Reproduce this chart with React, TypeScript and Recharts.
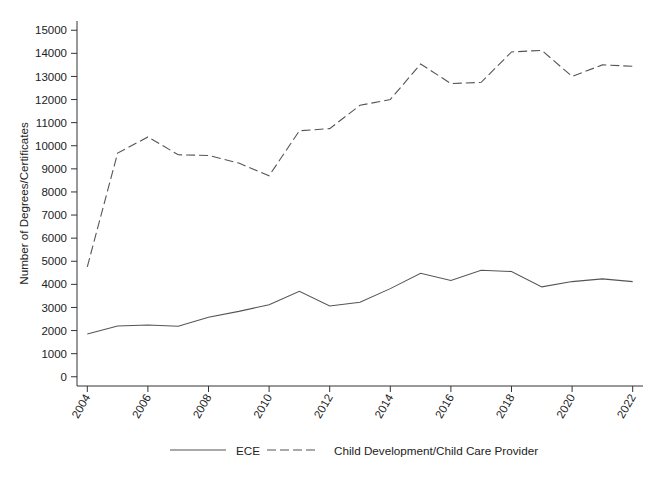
import React from 'react';
import { LineChart, Line, XAxis, YAxis, Legend } from 'recharts';

const years = [2004, 2005, 2006, 2007, 2008, 2009, 2010, 2011, 2012, 2013, 2014, 2015, 2016, 2017, 2018, 2019, 2020, 2021, 2022];
const eceValues = [1850, 2200, 2240, 2185, 2575, 2830, 3120, 3700, 3065, 3225, 3815, 4480, 4165, 4610, 4555, 3890, 4120, 4235, 4120];
const childDevValues = [4760, 9680, 10380, 9610, 9580, 9250, 8700, 10650, 10740, 11750, 12000, 13540, 12690, 12745, 14060, 14130, 13000, 13500, 13440];
const xTicks = [2004, 2006, 2008, 2010, 2012, 2014, 2016, 2018, 2020, 2022];
const yTicks = [0, 1000, 2000, 3000, 4000, 5000, 6000, 7000, 8000, 9000, 10000, 11000, 12000, 13000, 14000, 15000];
const seriesNames = ['ECE', 'Child Development/Child Care Provider'];

const data = years.map((y, i) => ({ year: y, ece: eceValues[i], cd: childDevValues[i] }));

const FONT = '"Liberation Sans", Arial, sans-serif';
const TEXT = '#222';
const LINE = '#555';
const AXIS = '#333';

const XTick = (props: any) => {
  const { x, y, payload } = props;
  return (
    <text
      x={x}
      y={y}
      transform={`rotate(-60 ${x} ${y})`}
      textAnchor="end"
      dominantBaseline="central"
      fontFamily={FONT}
      fontSize={11.5}
      fill={TEXT}
    >
      {payload.value}
    </text>
  );
};

const LegendContent = () => (
  <div
    style={{
      width: 659,
      height: 20,
      display: 'flex',
      alignItems: 'center',
      fontFamily: FONT,
      fontSize: 11.7,
      color: TEXT,
      paddingLeft: 170,
      boxSizing: 'border-box',
    }}
  >
    <svg width={56} height={4} style={{ display: 'block' }}>
      <line x1={0} y1={2} x2={56} y2={2} stroke={LINE} strokeWidth={1.1} />
    </svg>
    <span style={{ marginLeft: 10, marginRight: 7 }}>{seriesNames[0]}</span>
    <svg width={50} height={4} style={{ display: 'block' }}>
      <line x1={0} y1={2} x2={50} y2={2} stroke={LINE} strokeWidth={1.1} strokeDasharray="9 4" />
    </svg>
    <span style={{ marginLeft: 17 }}>{seriesNames[1]}</span>
  </div>
);

const YLabel = (props: any) => {
  const { viewBox } = props;
  const cy = viewBox.y + viewBox.height / 2;
  const cx = 23;
  return (
    <text
      x={cx}
      y={cy}
      transform={`rotate(-90 ${cx} ${cy})`}
      textAnchor="middle"
      dominantBaseline="central"
      fontFamily={FONT}
      fontSize={11.6}
      fill={TEXT}
    >
      Number of Degrees/Certificates
    </text>
  );
};

export default function App() {
  return (
    <div style={{ position: 'absolute', left: 0, top: 0, width: 659, height: 485, background: '#fff' }}>
      <LineChart
        width={659}
        height={485}
        data={data}
        margin={{ top: 21, right: 16, left: 0, bottom: 29 }}
      >
        <XAxis
          dataKey="year"
          type="number"
          domain={[2003.66, 2022.34]}
          ticks={xTicks}
          allowDataOverflow
          height={50}
          tickSize={6}
          tickMargin={3}
          tick={<XTick />}
          axisLine={{ stroke: AXIS, strokeWidth: 1 }}
          tickLine={{ stroke: AXIS, strokeWidth: 1 }}
          interval={0}
        />
        <YAxis
          type="number"
          domain={[-400, 15400]}
          ticks={yTicks}
          allowDataOverflow
          width={77}
          tickSize={6}
          tickMargin={4}
          interval={0}
          tick={{ fontFamily: FONT, fontSize: 11.5, fill: TEXT }}
          axisLine={{ stroke: AXIS, strokeWidth: 1 }}
          tickLine={{ stroke: AXIS, strokeWidth: 1 }}
          label={<YLabel />}
        />
        <Legend
          verticalAlign="bottom"
          content={<LegendContent />}
          wrapperStyle={{ top: 440, left: 0, width: 659, height: 20 }}
        />
        <Line
          type="linear"
          dataKey="ece"
          name={seriesNames[0]}
          stroke={LINE}
          strokeWidth={1.1}
          dot={false}
          isAnimationActive={false}
        />
        <Line
          type="linear"
          dataKey="cd"
          name={seriesNames[1]}
          stroke={LINE}
          strokeWidth={1.1}
          strokeDasharray="9 4"
          dot={false}
          isAnimationActive={false}
        />
      </LineChart>
    </div>
  );
}
